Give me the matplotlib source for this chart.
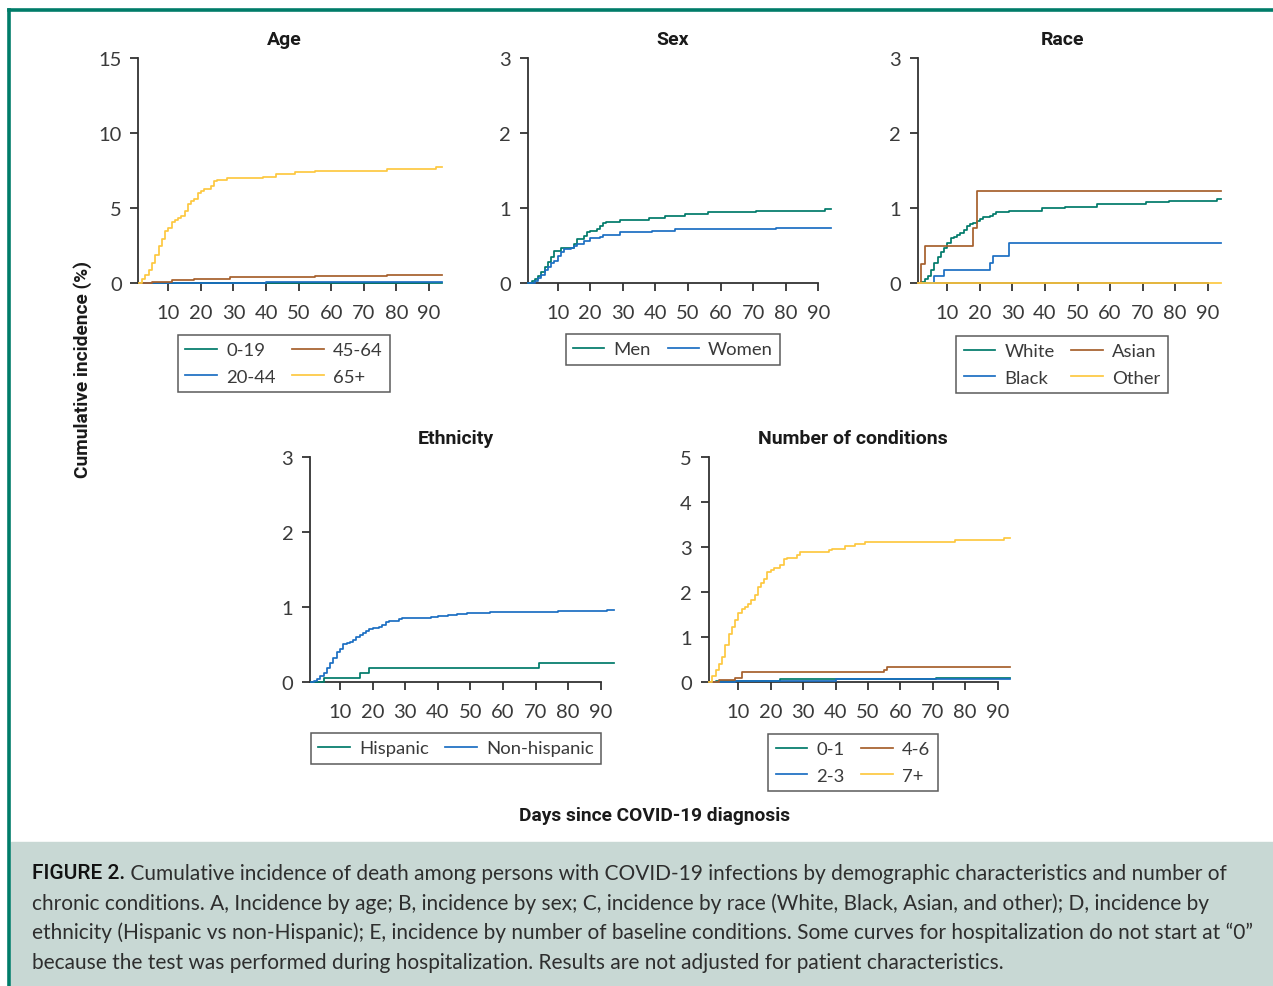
import matplotlib
matplotlib.use("Agg")
import matplotlib.pyplot as plt
from matplotlib.patches import Rectangle
from matplotlib.lines import Line2D

# ---------------- data (days since diagnosis, cumulative incidence %) ----------------
END_DAY = 94

# Age
AGE_LABELS = ["0-19", "20-44", "45-64", "65+"]
age_0_19_days = [1]
age_0_19_vals = [0]
age_20_44_days = [1, 10, 40, 80]
age_20_44_vals = [0, 0.02, 0.04, 0.06]
age_45_64_days = [1, 5, 11, 18, 23, 29, 38, 55, 77]
age_45_64_vals = [0, 0.1, 0.2, 0.25, 0.3, 0.38, 0.43, 0.47, 0.52]
age_65_days = [1, 2, 3, 4, 5, 6, 7, 8, 9, 10, 11, 12, 13, 14, 15, 16, 17, 18, 19, 20,
               21, 23, 24, 25, 28, 39, 43, 46, 49, 55, 77, 92]
age_65_vals = [0, 0.3, 0.55, 0.9, 1.35, 1.85, 2.45, 2.95, 3.45, 3.65, 4.1, 4.2, 4.35, 4.5,
               4.8, 5.3, 5.45, 5.6, 6.0, 6.15, 6.25, 6.45, 6.8, 6.9, 7.0, 7.1, 7.25, 7.3,
               7.4, 7.5, 7.62, 7.75]

# Sex
SEX_LABELS = ["Men", "Women"]
men_days = [1, 2, 3, 4, 5, 6, 7, 8, 9, 11, 15, 16, 18, 19, 20, 22, 23, 24, 25, 29, 38,
            43, 49, 56, 71, 92]
men_vals = [0, 0.03, 0.05, 0.1, 0.15, 0.22, 0.28, 0.35, 0.43, 0.47, 0.52, 0.59, 0.63,
            0.68, 0.70, 0.72, 0.76, 0.80, 0.82, 0.845, 0.87, 0.89, 0.92, 0.95, 0.965, 0.99]
women_days = [1, 3, 4, 5, 6, 7, 8, 9, 10, 11, 12, 14, 15, 16, 18, 20, 23, 24, 29, 39, 46, 77]
women_vals = [0, 0.03, 0.07, 0.11, 0.17, 0.22, 0.27, 0.30, 0.36, 0.42, 0.45, 0.47, 0.50,
              0.52, 0.56, 0.60, 0.62, 0.64, 0.68, 0.70, 0.72, 0.74]

# Race
RACE_LABELS = ["White", "Black", "Asian", "Other"]
white_days = [1, 2, 3, 4, 5, 6, 7, 8, 9, 10, 11, 12, 13, 14, 15, 16, 17, 18, 19, 20, 21,
              23, 24, 25, 29, 39, 46, 56, 71, 78, 93]
white_vals = [0, 0.02, 0.05, 0.10, 0.18, 0.27, 0.35, 0.42, 0.47, 0.53, 0.60, 0.62, 0.64,
              0.67, 0.71, 0.76, 0.79, 0.80, 0.83, 0.85, 0.88, 0.89, 0.92, 0.95, 0.96, 1.0,
              1.02, 1.06, 1.08, 1.10, 1.12]
black_days = [1, 6, 9, 23, 24, 29]
black_vals = [0, 0.09, 0.18, 0.27, 0.36, 0.53]
asian_days = [1, 2, 3, 18, 19]
asian_vals = [0, 0.25, 0.5, 0.73, 1.23]
other_days = [1]
other_vals = [0]

# Ethnicity
ETH_LABELS = ["Hispanic", "Non-hispanic"]
hisp_days = [1, 5, 16, 19, 71]
hisp_vals = [0, 0.06, 0.12, 0.19, 0.26]
nonhisp_days = [1, 2, 3, 4, 5, 6, 7, 8, 9, 10, 11, 12, 13, 14, 15, 16, 17, 18, 19, 20, 22,
                23, 24, 25, 28, 29, 38, 40, 43, 46, 49, 56, 77, 92]
nonhisp_vals = [0, 0.02, 0.05, 0.09, 0.13, 0.19, 0.26, 0.33, 0.40, 0.45, 0.51, 0.53, 0.54,
                0.56, 0.60, 0.63, 0.66, 0.68, 0.71, 0.72, 0.74, 0.77, 0.80, 0.82, 0.84,
                0.86, 0.87, 0.88, 0.90, 0.91, 0.92, 0.94, 0.95, 0.97]

# Number of conditions
COND_LABELS = ["0-1", "2-3", "4-6", "7+"]
c01_days = [1, 3, 23, 71]
c01_vals = [0, 0.02, 0.07, 0.09]
c23_days = [1, 9, 40]
c23_vals = [0, 0.04, 0.07]
c46_days = [1, 4, 9, 11, 55, 56]
c46_vals = [0, 0.05, 0.1, 0.22, 0.28, 0.33]
c7_days = [1, 2, 3, 4, 5, 6, 7, 8, 9, 10, 11, 12, 13, 14, 15, 16, 17, 18, 19, 20, 21, 23,
           24, 25, 28, 29, 38, 39, 43, 46, 49, 77, 92]
c7_vals = [0, 0.13, 0.27, 0.40, 0.57, 0.82, 1.08, 1.22, 1.38, 1.53, 1.64, 1.68, 1.73, 1.83,
           1.95, 2.11, 2.20, 2.30, 2.46, 2.50, 2.55, 2.60, 2.73, 2.77, 2.82, 2.90, 2.94,
           2.97, 3.03, 3.07, 3.11, 3.17, 3.21]

X_TICKS = [10, 20, 30, 40, 50, 60, 70, 80, 90]

# ---------------- style ----------------
TEAL = "#007a6a"
BLUE = "#1b6ec2"
BROWN = "#a65f2c"
YELLOW = "#fdc840"
FRAME = "#007c69"
CAPTION_BG = "#c8d8d4"
AXCOL = "#333333"
TXT = "#3a3a3a"

LIGHT = dict(family=["Lato", "DejaVu Sans"], weight="normal")
BOLD = dict(family=["Roboto", "DejaVu Sans"], weight="bold")

W, H = 1273, 987
fig = plt.figure(figsize=(W / 100, H / 100), dpi=100)


def rect(l, t, r, b):
    return [l / W, 1 - b / H, (r - l) / W, (b - t) / H]


def panel(box, ymax, yticks, title, title_x, series, labels, colors, leg_center, leg_top,
          ncol):
    ax = fig.add_axes(rect(*box))
    for (d, v), c, lab in zip(series, colors, labels):
        xs = list(d) + [END_DAY]
        ys = list(v) + [v[-1]]
        ax.step(xs, ys, where="post", color=c, lw=1.25, label=lab, clip_on=False,
                zorder=3)
    ax.set_xlim(0.8, END_DAY)
    ax.set_ylim(0, ymax)
    for s in ["top", "right"]:
        ax.spines[s].set_visible(False)
    ax.spines["left"].set_bounds(0, ymax)
    ax.spines["bottom"].set_bounds(0.8, 90)
    for s in ["left", "bottom"]:
        ax.spines[s].set_color(AXCOL)
        ax.spines[s].set_linewidth(1.3)
    ax.set_xticks(X_TICKS)
    ax.set_xticklabels([str(t) for t in X_TICKS], **LIGHT)
    ax.set_yticks(yticks)
    ax.set_yticklabels([str(t) for t in yticks], **LIGHT)
    ax.tick_params(axis="both", direction="out", length=6, width=1.3, color=AXCOL,
                   labelsize=14.5, labelcolor=TXT)
    ax.tick_params(axis="x", pad=9)
    ax.tick_params(axis="y", pad=6)
    ax.patch.set_alpha(0)
    fig.text(title_x / W, 1 - 40 / H if box[1] < 100 else 1 - 439 / H, title,
             ha="center", va="center", fontsize=14, color="#1a1a1a", **BOLD)
    handles = [Line2D([], [], color=c, lw=1.25) for c in colors]
    leg = ax.legend(handles, labels, loc="upper center",
                    bbox_to_anchor=(leg_center / W, 1 - leg_top / H),
                    bbox_transform=fig.transFigure, ncol=ncol, frameon=True,
                    fancybox=False, edgecolor=AXCOL, handlelength=1.7,
                    handletextpad=0.5, columnspacing=0.9, borderpad=0.4,
                    labelspacing=0.55, borderaxespad=0,
                    prop=dict(size=13.3, family=LIGHT["family"], weight="normal"))
    leg.get_frame().set_linewidth(1.1)
    for t in leg.get_texts():
        t.set_color(TXT)
    return ax


panel((138.3, 59, 442.1, 284), 15, [0, 5, 10, 15], "Age", 284,
      [(age_0_19_days, age_0_19_vals), (age_20_44_days, age_20_44_vals),
       (age_45_64_days, age_45_64_vals), (age_65_days, age_65_vals)],
      AGE_LABELS, [TEAL, BLUE, BROWN, YELLOW], 284, 336, 2)

panel((527.6, 59, 831.4, 284), 3, [0, 1, 2, 3], "Sex", 673,
      [(men_days, men_vals), (women_days, women_vals)],
      SEX_LABELS, [TEAL, BLUE], 673, 335, 2)

panel((917.6, 59, 1220.5, 284), 3, [0, 1, 2, 3], "Race", 1062,
      [(white_days, white_vals), (black_days, black_vals),
       (asian_days, asian_vals), (other_days, other_vals)],
      RACE_LABELS, [TEAL, BLUE, BROWN, YELLOW], 1062, 337, 2)

panel((310.0, 458.3, 613.8, 683.3), 3, [0, 1, 2, 3], "Ethnicity", 456,
      [(hisp_days, hisp_vals), (nonhisp_days, nonhisp_vals)],
      ETH_LABELS, [TEAL, BLUE], 456, 734, 2)

panel((708.5, 458.3, 1010.5, 683.3), 5, [0, 1, 2, 3, 4, 5], "Number of conditions", 853,
      [(c01_days, c01_vals), (c23_days, c23_vals),
       (c46_days, c46_vals), (c7_days, c7_vals)],
      COND_LABELS, [TEAL, BLUE, BROWN, YELLOW], 853, 735, 2)

# shared axis labels
fig.text(83 / W, 1 - 370 / H, "Cumulative incidence (%)", rotation=90, ha="center",
         va="center", fontsize=13.8, color="#1a1a1a", **BOLD)
fig.text(655 / W, 1 - 816 / H, "Days since COVID-19 diagnosis", ha="center",
         va="center", fontsize=13.8, color="#1a1a1a", **BOLD)

# frame lines and caption box
fig.add_artist(Line2D([9 / W, 1], [1 - 11 / H, 1 - 11 / H], color=FRAME, lw=2.6,
                      transform=fig.transFigure))
fig.add_artist(Line2D([9 / W, 9 / W], [1 - 11 / H, 0], color=FRAME, lw=2.6,
                      transform=fig.transFigure))
fig.add_artist(Rectangle((11 / W, 0), 1 - 11 / W, (987 - 843) / H, color=CAPTION_BG,
                         transform=fig.transFigure, zorder=0))

cap_bold = "FIGURE 2."
cap_lines = [
    " Cumulative incidence of death among persons with COVID-19 infections by demographic characteristics and number of",
    "chronic conditions. A, Incidence by age; B, incidence by sex; C, incidence by race (White, Black, Asian, and other); D, incidence by",
    "ethnicity (Hispanic vs non-Hispanic); E, incidence by number of baseline conditions. Some curves for hospitalization do not start at \u201c0\u201d",
    "because the test was performed during hospitalization. Results are not adjusted for patient characteristics.",
]
cap_y = [874, 904, 933, 963]
CAP_LEFT, CAP_RIGHT = 32, 1257

fs0 = 14
tb = fig.text(CAP_LEFT / W, 1 - cap_y[0] / H, cap_bold, ha="left", va="center",
              fontsize=fs0, color="#111111", family=["Roboto", "DejaVu Sans"],
              weight="medium")
texts = []
for i, line in enumerate(cap_lines):
    t = fig.text(CAP_LEFT / W, 1 - cap_y[i] / H, line, ha="left", va="center",
                 fontsize=fs0, color="#2e2e2e", **LIGHT)
    texts.append(t)

renderer = fig.canvas.get_renderer()
wb = tb.get_window_extent(renderer).width
w1 = texts[0].get_window_extent(renderer).width
w2 = texts[1].get_window_extent(renderer).width
w3 = texts[2].get_window_extent(renderer).width
target = CAP_RIGHT - CAP_LEFT
scale = min(target / (wb + w1), target / w2, target / w3)
fs = fs0 * scale
tb.set_fontsize(fs)
for t in texts:
    t.set_fontsize(fs)
wb = tb.get_window_extent(renderer).width
texts[0].set_x((CAP_LEFT + wb) / W)

fig.savefig("out.png", dpi=100)
